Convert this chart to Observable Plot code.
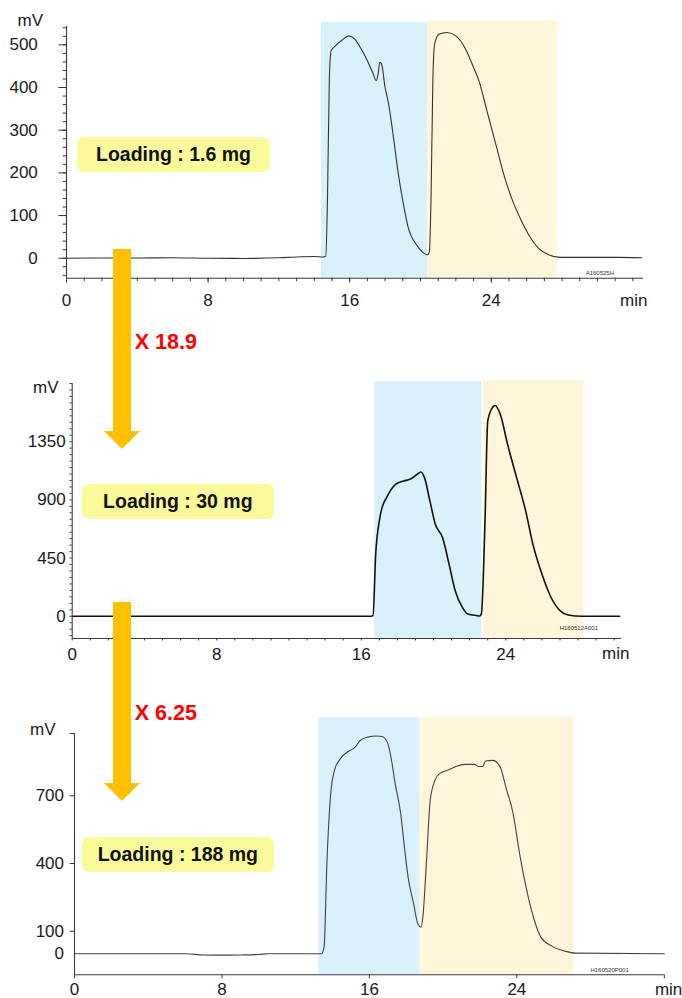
<!DOCTYPE html>
<html><head><meta charset="utf-8">
<script src="https://cdn.jsdelivr.net/npm/d3@7"></script>
<script src="https://cdn.jsdelivr.net/npm/@observablehq/plot@0.6"></script>
<style>
body{margin:0;background:#fff;}
#wrap{position:relative;width:682px;height:998px;overflow:hidden;font-family:"Liberation Sans",Arial,sans-serif;}
#wrap svg{position:absolute;left:0;}
.box{position:absolute;background:#fbfa9a;border-radius:7px;display:flex;align-items:center;justify-content:center;font-weight:bold;font-size:19.5px;color:#111;}
.bar{position:absolute;background:#ffc000;}
.head{position:absolute;width:0;height:0;border-left:18.25px solid transparent;border-right:18.25px solid transparent;border-top:18px solid #ffc000;}
.factor{position:absolute;color:#ff0000;font-weight:bold;font-size:21.5px;line-height:1;}
</style></head>
<body><div id="wrap"></div>
<script>
// ---- data ----
const xTickLabels = [0, 8, 16, 24];
const p1YTicks = [0, 100, 200, 300, 400, 500];
const p2YTicks = [0, 450, 900, 1350];
const p3YTicks = [0, 100, 400, 700];
const loadings = ["Loading : 1.6 mg", "Loading : 30 mg", "Loading : 188 mg"];
const factors = ["X 18.9", "X 6.25"];
const runIds = ["A160525H", "H160512A001", "H160520P001"];

// fraction windows (min)
const p1Blue = [14.4, 20.4], p1Beige = [20.4, 27.75];
const p2Blue = [16.74, 22.68], p2Beige = [22.78, 28.33];
const p3Blue = [13.26, 18.75], p3Beige = [18.75, 27.1];

// traces
const p1Time = [0, 2, 4, 6, 8, 10, 12, 13, 14, 14.5, 14.65, 14.75, 14.85, 14.95, 15.2, 15.6, 15.95, 16.3, 16.6, 17.0, 17.3, 17.5, 17.6, 17.7, 17.8, 18.0, 18.2, 18.5, 18.75, 19.0, 19.3, 19.8, 20.1, 20.4, 20.5, 20.6, 20.7, 20.8, 21.05, 21.5, 22.0, 22.5, 23.0, 23.3, 23.75, 24.25, 24.7, 25.2, 25.7, 26.2, 26.7, 27.2, 27.9, 30, 31.1, 32.5];
const p1mV   = [0, 0.5, 0.5, 1, 0, -0.5, 1, 3, 4, 3, 5, 150, 420, 486, 498, 512, 521, 513, 494, 463, 435, 416, 430, 459, 455, 400, 361, 275, 197, 135, 73, 30, 15, 8, 15, 150, 420, 502, 525, 529, 521, 494, 447, 416, 346, 268, 197, 135, 88, 49, 22, 9, 2, 2, 2, 1];

const p2Time = [0, 16.55, 16.65, 16.8, 17.0, 17.15, 17.4, 17.9, 18.35, 18.7, 19.1, 19.3, 19.5, 19.8, 20.1, 20.5, 20.9, 21.2, 21.6, 21.9, 22.4, 22.55, 22.65, 22.85, 23.0, 23.2, 23.4, 23.7, 24.1, 24.6, 25.1, 25.5, 26.0, 26.5, 27.0, 27.45, 28.2, 30.3];
const p2mV   = [0, 0, 5, 481, 738, 840, 918, 1020, 1046, 1059, 1098, 1116, 1072, 892, 712, 609, 378, 198, 69, 18, 5, 2, 18, 738, 1509, 1599, 1630, 1560, 1329, 1072, 815, 558, 326, 147, 44, 10, 0, 0];

const p3Time = [0, 4, 6, 7, 8, 9, 10, 10.5, 13.4, 13.54, 13.7, 13.9, 14.1, 14.36, 14.8, 15.2, 15.5, 15.9, 16.4, 16.7, 17.0, 17.2, 17.4, 17.7, 17.9, 18.1, 18.4, 18.6, 18.8, 18.9, 19.1, 19.3, 19.55, 19.8, 20.3, 20.7, 21.2, 21.7, 21.9, 22.15, 22.3, 22.7, 23.1, 23.4, 23.8, 24.15, 24.5, 24.9, 25.3, 25.9, 26.6, 27.2, 32];
const p3mV   = [0, 0, 0, -5, -6, -5, -3, 0, 0, 30, 414, 709, 812, 857, 894, 913, 945, 960, 965, 963, 931, 857, 753, 620, 473, 340, 222, 140, 118, 162, 414, 680, 768, 798, 815, 830, 839, 839, 830, 830, 854, 857, 827, 739, 620, 443, 295, 162, 74, 34, 12, 3, 0];

// ---- drawing ----
const wrap = document.getElementById("wrap");
const AX = "#3a3a3a";

function panel(o) {
  const trace = o.time.map((t, i) => ({t, v: o.mV[i]}));
  const y0 = o.yDomain[0];
  const marks = [
    Plot.rect([o.blue], {x1: d => d[0], x2: d => d[1], y1: y0, y2: o.blueTop, fill: "#d9f1fb"}),
    Plot.rect([o.beige], {x1: d => d[0], x2: d => d[1], y1: y0, y2: o.beigeTop, fill: "#fff5da"}),
    Plot.line(trace, {x: "t", y: "v", stroke: o.stroke, strokeWidth: o.sw, curve: "monotone-x"}),
    Plot.ruleX([0], {stroke: AX, strokeWidth: 1.1}),
    Plot.ruleY([y0], {stroke: AX, strokeWidth: 1.1}),
    Plot.axisY(o.yTicks, {tickSize: o.yTickSize, tickPadding: o.yTickPadding, label: null, tickFormat: d3.format("d"), fontSize: 17, stroke: AX}),
    Plot.axisX(xTickLabels, {tickSize: o.xTickSize, tickPadding: o.xTickPadding, label: null, tickFormat: d3.format("d"), fontSize: 17, stroke: AX}),
    Plot.text(["mV"], {frameAnchor: "top-left", lineAnchor: "middle", text: d => d, textAnchor: "end", dx: o.mvDx, dy: o.mvDy, fontSize: 17, fill: "#1a1a1a"}),
    Plot.text(["min"], {frameAnchor: "bottom-right", lineAnchor: "middle", text: d => d, textAnchor: "end", dx: o.minDx, dy: o.minDy, fontSize: 17, fill: "#1a1a1a"}),
    Plot.text([o.id], {frameAnchor: "bottom-right", lineAnchor: "middle", text: d => d, dx: o.idDx, dy: o.idDy, fontSize: 6, fill: "#333"})
  ];
  if (o.yMinor) marks.push(Plot.axisY(o.yMinor, {tickSize: o.yMinorSize, label: null, tickFormat: () => "", stroke: AX}));
  if (o.xMinor) marks.push(Plot.axisX(o.xMinor, {tickSize: o.xMinorSize, label: null, tickFormat: () => "", stroke: AX}));
  const svg = Plot.plot({
    width: 682, height: o.height,
    marginLeft: o.ml, marginRight: o.mr, marginTop: o.mt, marginBottom: o.mb,
    x: {domain: o.xDomain},
    y: {domain: o.yDomain},
    style: {fontFamily: "'Liberation Sans', Arial, sans-serif", fontSize: "17px", color: "#1a1a1a", background: "transparent", overflow: "visible"},
    marks
  });
  svg.style.top = o.top + "px";
  wrap.appendChild(svg);
}

panel({
  top: 0, height: 310, ml: 66, mr: 39, mt: 26, mb: 32.3,
  xDomain: [0, 32.6], yDomain: [-46.8, 543],
  time: p1Time, mV: p1mV, stroke: "#333", sw: 1.1,
  blue: p1Blue, beige: p1Beige, blueTop: 553, beigeTop: 555,
  yTicks: p1YTicks, yTickSize: 7.7, yTickPadding: 21,
  yMinor: d3.range(-40, 541, 20), yMinorSize: 3.3,
  xTickSize: 5, xTickPadding: 11, xMinor: d3.range(0, 33, 1), xMinorSize: 3.5,
  mvDx: -23.4, mvDy: -6, minDx: 4, minDy: 22, id: runIds[0], idDx: -29.5, idDy: -5
});

panel({
  top: 330, height: 340, ml: 71.7, mr: 61.1, mt: 53, mb: 32,
  xDomain: [0, 30.4], yDomain: [-172, 1800],
  time: p2Time, mV: p2mV, stroke: "#111", sw: 1.6,
  blue: p2Blue, beige: p2Beige, blueTop: 1815, beigeTop: 1823,
  yTicks: p2YTicks, yTickSize: 0, yTickPadding: 6.5,
  yMinor: d3.range(-150, 1801, 50), yMinorSize: 2.2,
  xTickSize: 0, xTickPadding: 9.3, xMinor: d3.range(0, 31, 1), xMinorSize: 2.5,
  mvDx: -13.7, mvDy: 4.5, minDx: 8, minDy: 15.3, id: runIds[1], idDx: -23.4, idDy: -10.7
});

panel({
  top: 680, height: 318, ml: 74, mr: 18.2, mt: 53, mb: 23.7,
  xDomain: [0, 32], yDomain: [-93, 976],
  time: p3Time, mV: p3mV, stroke: "#444", sw: 1.1,
  blue: p3Blue, beige: p3Beige, blueTop: 1046, beigeTop: 1048,
  yTicks: p3YTicks, yTickSize: 0, yTickPadding: 10.5,
  yMinor: [100, 400, 700, 976], yMinorSize: 4.3,
  xTickSize: 0, xTickPadding: 8.6, xMinor: [0, 8, 16, 24, 32], xMinorSize: 4,
  mvDx: -19, mvDy: -3.5, minDx: 18, minDy: 15.2, id: runIds[2], idDx: -35.5, idDy: -5
});

// ---- annotations (layout) ----
function addDiv(cls, css, text) {
  const d = document.createElement("div");
  d.className = cls;
  Object.assign(d.style, css);
  if (text) d.textContent = text;
  wrap.appendChild(d);
}
addDiv("box", {left: "77px", top: "137px", width: "193px", height: "35px"}, loadings[0]);
addDiv("box", {left: "81.7px", top: "484px", width: "192.3px", height: "35.3px"}, loadings[1]);
addDiv("box", {left: "81.7px", top: "837px", width: "192.3px", height: "34.7px"}, loadings[2]);

addDiv("bar", {left: "113px", top: "249px", width: "17.5px", height: "182px"});
addDiv("head", {left: "103.5px", top: "431px"});
addDiv("bar", {left: "113px", top: "601.7px", width: "17.5px", height: "181.3px"});
addDiv("head", {left: "103.5px", top: "783px"});

addDiv("factor", {left: "134.8px", top: "332px"}, factors[0]);
addDiv("factor", {left: "134.8px", top: "703px"}, factors[1]);
</script></body></html>
